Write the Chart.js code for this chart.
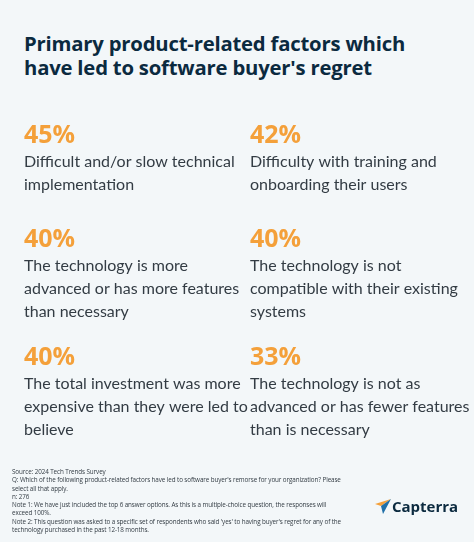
<!DOCTYPE html>
<html><head><meta charset="utf-8">
<script src="https://cdn.jsdelivr.net/npm/chart.js@4"></script>
<style>
html,body{margin:0;padding:0;background:#f3f7f9;}
#wrap{position:relative;width:474px;height:542px;overflow:hidden;font-family:"Open Sans",sans-serif;}
#title{position:absolute;left:24px;top:31px;font-size:20.3px;font-weight:700;color:#0b2a3f;line-height:24px;letter-spacing:-0.2px;margin:0}
#cv{position:absolute;left:0;top:0}
#foot{position:absolute;left:12px;top:468px;width:365px;font-size:6.3px;line-height:8.3px;color:#333c44;letter-spacing:-0.1px}
#logo{position:absolute;left:375px;top:496px;font-size:15px;font-weight:700;color:#0b2a3f;display:flex;align-items:center}
</style></head><body>
<div id="wrap">
<h1 id="title">Primary product-related factors which<br>have led to software buyer's regret</h1>
<canvas id="cv" width="474" height="542"></canvas>
<div id="foot">Source: 2024 Tech Trends Survey<br>Q: Which of the following product-related factors have led to software buyer's remorse for your organization? Please<br>select all that apply.<br>n: 276<br>Note 1: We have just included the top 6 answer options. As this is a multiple-choice question, the responses will<br>exceed 100%.<br>Note 2: This question was asked to a specific set of respondents who said 'yes' to having buyer's regret for any of the<br>technology purchased in the past 12-18 months.</div>
<div id="logo"><svg width="16" height="16" viewBox="0 0 16 16"><polygon points="0,6 16,1 6,8" fill="#f4a03a"/><polygon points="6,8 16,1 8,16" fill="#1f6fa8"/></svg><span style="margin-left:1px">Capterra</span></div>
</div>
<script>
const percents = [45, 42, 40, 40, 40, 33];
const labels = [
  ["Difficult and/or slow technical", "implementation"],
  ["Difficulty with training and", "onboarding their users"],
  ["The technology is more", "advanced or has more features", "than necessary"],
  ["The technology is not", "compatible with their existing", "systems"],
  ["The total investment was more", "expensive than they were led to", "believe"],
  ["The technology is not as", "advanced or has fewer features", "than is necessary"]
];
const columns = [0, 1, 0, 1, 0, 1];
const rows = [0, 0, 1, 1, 2, 2];
const rowPos = [0, 104, 222];

const textPlugin = {
  id: 'text',
  afterDatasetsDraw(chart) {
    const ctx = chart.ctx, xs = chart.scales.x, ys = chart.scales.y;
    ctx.save();
    percents.forEach((p, i) => {
      const x = xs.getPixelForValue(columns[i]);
      const y = ys.getPixelForValue(rowPos[rows[i]]);
      ctx.fillStyle = '#f4a03a';
      ctx.font = '700 25px "Open Sans"';
      ctx.textBaseline = 'alphabetic';
      ctx.fillText(p + '%', x, y + 9);
      ctx.fillStyle = '#333c44';
      ctx.font = '400 16px Lato';
      labels[i].forEach((l, j) => ctx.fillText(l, x, y + 33 + j * 23));
    });
    ctx.restore();
  }
};

new Chart(document.getElementById('cv'), {
  type: 'scatter',
  data: { datasets: [{ data: percents.map((p, i) => ({ x: columns[i], y: rowPos[rows[i]] })), pointRadius: 0 }] },
  options: {
    responsive: false, animation: false, events: [],
    layout: { padding: { left: 24, right: 224, top: 134, bottom: 52 } },
    plugins: { legend: { display: false }, tooltip: { enabled: false } },
    scales: {
      x: { type: 'linear', min: 0, max: 1, display: false },
      y: { type: 'linear', min: 0, max: 356, reverse: true, display: false }
    }
  },
  plugins: [textPlugin]
});
</script>
</body></html>
